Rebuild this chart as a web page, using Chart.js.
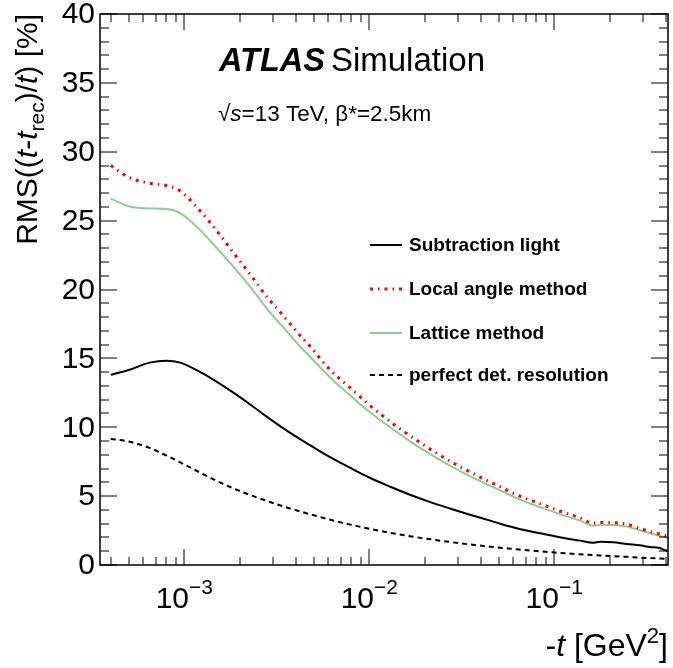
<!DOCTYPE html>
<html>
<head>
<meta charset="utf-8">
<script src="https://cdn.jsdelivr.net/npm/chart.js@4.4.1/dist/chart.umd.min.js"></script>
<style>
  html, body { margin: 0; padding: 0; background: #fff; }
  canvas { display: block; }
</style>
</head>
<body>
<canvas id="rmsChart" width="673" height="668"></canvas>
<script>
const tValues = [4e-4, 5e-4, 6.5e-4, 8e-4, 9.5e-4, 1.2e-3, 1.5e-3, 1.8e-3, 2.3e-3, 2.8e-3,
  3.4e-3, 4.2e-3, 4.8e-3, 6.1e-3, 7.9e-3, 0.01, 0.013, 0.0166, 0.021, 0.027,
  0.035, 0.045, 0.051, 0.065, 0.084, 0.107, 0.138, 0.162, 0.177, 0.208,
  0.247, 0.29, 0.33, 0.37, 0.39, 0.41];

// RMS((t - t_rec)/t) in %
const subtractionLight = [13.8, 14.16, 14.69, 14.83, 14.69, 14.05, 13.3, 12.6, 11.6, 10.75,
  9.95, 9.15, 8.68, 7.85, 7.05, 6.35, 5.68, 5.1, 4.6, 4.12,
  3.65, 3.22, 3.0, 2.62, 2.3, 2.02, 1.77, 1.62, 1.69, 1.65,
  1.52, 1.43, 1.3, 1.24, 1.12, 1.02];
const localAngle = [29.0, 28.15, 27.72, 27.55, 27.15, 25.8, 24.25, 22.85, 21.0, 19.45,
  18.15, 16.7, 15.85, 14.2, 12.85, 11.62, 10.4, 9.38, 8.47, 7.58,
  6.75, 6.02, 5.68, 5.0, 4.45, 3.92, 3.42, 3.03, 3.08, 3.07,
  2.96, 2.66, 2.43, 2.25, 2.17, 2.1];
const lattice = [26.6, 26.05, 25.88, 25.85, 25.55, 24.4, 23.0, 21.8, 20.1, 18.6,
  17.3, 15.9, 15.1, 13.65, 12.3, 11.12, 9.98, 8.98, 8.1, 7.25,
  6.45, 5.75, 5.42, 4.75, 4.2, 3.7, 3.22, 2.85, 2.93, 2.91,
  2.8, 2.52, 2.3, 2.12, 2.04, 1.96];
const perfectResolution = [9.15, 8.97, 8.5, 7.95, 7.45, 6.75, 6.1, 5.62, 5.05, 4.65,
  4.27, 3.9, 3.68, 3.3, 2.93, 2.63, 2.33, 2.09, 1.88, 1.68,
  1.49, 1.33, 1.26, 1.12, 0.99, 0.88, 0.78, 0.72, 0.69, 0.64,
  0.59, 0.54, 0.5, 0.47, 0.46, 0.45];

const seriesLabels = ["Subtraction light", "Local angle method", "Lattice method", "perfect det. resolution"];
const yTickValues = [0, 5, 10, 15, 20, 25, 30, 35, 40];
const xDecadeExponents = [-3, -2, -1];

const FONT = "'Liberation Sans', Arial, Helvetica, sans-serif";

function toPoints(values) {
  return tValues.map((t, i) => ({ x: t, y: values[i] }));
}

// ROOT style frame: inward ticks on all four sides + labels
const rootFrame = {
  id: "rootFrame",
  afterDatasetsDraw(chart) {
    const ctx = chart.ctx;
    const { left, right, top, bottom } = chart.chartArea;
    const xs = chart.scales.x;
    const ys = chart.scales.y;

    ctx.save();
    ctx.strokeStyle = "#000";
    ctx.lineWidth = 1;

    // y ticks, every unit, major every 5
    for (let v = 0; v <= 40; v++) {
      const py = Math.round(ys.getPixelForValue(v));
      const len = v % 5 === 0 ? 17 : 9;
      ctx.beginPath();
      ctx.moveTo(left, py);
      ctx.lineTo(left + len, py);
      ctx.moveTo(right, py);
      ctx.lineTo(right - len, py);
      ctx.stroke();
    }

    // x ticks on log axis
    for (let e = -4; e <= 0; e++) {
      for (let m = 1; m <= 9; m++) {
        const v = m * Math.pow(10, e);
        if (v < xs.min || v > xs.max) continue;
        const px = Math.round(xs.getPixelForValue(v));
        const len = m === 1 ? 16 : 8;
        ctx.beginPath();
        ctx.moveTo(px, bottom);
        ctx.lineTo(px, bottom - len);
        ctx.moveTo(px, top);
        ctx.lineTo(px, top + len);
        ctx.stroke();
      }
    }

    // frame
    ctx.lineWidth = 1.5;
    ctx.strokeRect(left, top, right - left, bottom - top);
    ctx.restore();
  },
  afterDraw(chart) {
    const ctx = chart.ctx;
    const { left, right, top } = chart.chartArea;
    const xs = chart.scales.x;
    const ys = chart.scales.y;

    ctx.save();
    ctx.fillStyle = "#000";

    // y tick labels
    ctx.font = "30px " + FONT;
    ctx.textAlign = "right";
    ctx.textBaseline = "middle";
    yTickValues.forEach((v) => {
      ctx.fillText(String(v), left - 5, ys.getPixelForValue(v) + 1);
    });

    // x tick labels 10^n
    ctx.textBaseline = "alphabetic";
    ctx.textAlign = "left";
    xDecadeExponents.forEach((e) => {
      const px = xs.getPixelForValue(Math.pow(10, e));
      ctx.font = "30px " + FONT;
      const wBase = ctx.measureText("10").width;
      ctx.font = "21px " + FONT;
      const sup = "\u2212" + Math.abs(e);
      const wSup = ctx.measureText(sup).width;
      const x0 = px - (wBase + wSup) / 2;
      ctx.font = "30px " + FONT;
      ctx.fillText("10", x0, 608);
      ctx.font = "21px " + FONT;
      ctx.fillText(sup, x0 + wBase, 594);
    });

    // x axis title, right aligned to the frame
    const xParts = [
      ["-", "32px " + FONT, 0],
      ["t", "italic 32px " + FONT, 0],
      [" [GeV", "32px " + FONT, 0],
      ["2", "22px " + FONT, -13],
      ["]", "32px " + FONT, 0],
    ];
    let total = 0;
    xParts.forEach((p) => { ctx.font = p[1]; total += ctx.measureText(p[0]).width; });
    let cx = right - total;
    xParts.forEach((p) => {
      ctx.font = p[1];
      ctx.fillText(p[0], cx, 656 + p[2]);
      cx += ctx.measureText(p[0]).width;
    });

    // y axis title, rotated, end aligned with the frame top
    const yParts = [
      ["RMS((", "30px " + FONT, 0],
      ["t", "italic 30px " + FONT, 0],
      ["-", "30px " + FONT, 0],
      ["t", "italic 30px " + FONT, 0],
      ["rec", "21px " + FONT, 7],
      [")/", "30px " + FONT, 0],
      ["t", "italic 30px " + FONT, 0],
      [") [%]", "30px " + FONT, 0],
    ];
    total = 0;
    yParts.forEach((p) => { ctx.font = p[1]; total += ctx.measureText(p[0]).width; });
    ctx.save();
    ctx.translate(37, top);
    ctx.rotate(-Math.PI / 2);
    let cu = -total;
    yParts.forEach((p) => {
      ctx.font = p[1];
      ctx.fillText(p[0], cu, p[2]);
      cu += ctx.measureText(p[0]).width;
    });
    ctx.restore();

    // ATLAS Simulation label
    ctx.font = "italic bold 32.5px " + FONT;
    ctx.fillText("ATLAS", 219, 71);
    const wAtlas = ctx.measureText("ATLAS").width;
    ctx.font = "33px " + FONT;
    ctx.fillText("Simulation", 219 + wAtlas + 6, 71);

    // sqrt(s) line
    ctx.font = "22.5px " + FONT;
    let sx = 218;
    ctx.fillText("\u221A", sx, 121);
    sx += ctx.measureText("\u221A").width;
    ctx.font = "italic 22.5px " + FONT;
    ctx.fillText("s", sx, 121);
    sx += ctx.measureText("s").width;
    ctx.font = "22.5px " + FONT;
    ctx.fillText("=13 TeV, \u03B2*=2.5km", sx, 121);

    // legend
    const legendRows = [245, 289, 333, 375];
    ctx.font = "bold 19px " + FONT;
    ctx.textBaseline = "middle";
    chart.data.datasets.forEach((ds, i) => {
      const ly = legendRows[i];
      ctx.save();
      ctx.strokeStyle = ds.borderColor;
      ctx.lineWidth = ds.borderWidth;
      ctx.setLineDash(ds.borderDash || []);
      ctx.beginPath();
      ctx.moveTo(370, ly);
      ctx.lineTo(402, ly);
      ctx.stroke();
      ctx.restore();
      ctx.fillText(ds.label, 409, ly + 1);
    });

    ctx.restore();
  },
};

new Chart(document.getElementById("rmsChart"), {
  type: "line",
  data: {
    datasets: [
      {
        label: seriesLabels[0],
        data: toPoints(subtractionLight),
        borderColor: "#000000",
        borderWidth: 2,
      },
      {
        label: seriesLabels[1],
        data: toPoints(localAngle),
        borderColor: "#ff0000",
        borderWidth: 3,
        borderDash: [3, 5, 1.5, 5],
      },
      {
        label: seriesLabels[2],
        data: toPoints(lattice),
        borderColor: "#8fce8f",
        borderWidth: 2,
      },
      {
        label: seriesLabels[3],
        data: toPoints(perfectResolution),
        borderColor: "#000000",
        borderWidth: 2,
        borderDash: [5, 4],
      },
    ],
  },
  options: {
    responsive: false,
    animation: false,
    layout: { padding: { left: 100, right: 5, top: 14, bottom: 103 } },
    elements: {
      point: { radius: 0 },
      line: { cubicInterpolationMode: "monotone", fill: false },
    },
    scales: {
      x: { type: "logarithmic", min: 3.5e-4, max: 0.412, display: false },
      y: { type: "linear", min: 0, max: 40, display: false },
    },
    plugins: {
      legend: { display: false },
      tooltip: { enabled: false },
    },
  },
  plugins: [rootFrame],
});
</script>
</body>
</html>
